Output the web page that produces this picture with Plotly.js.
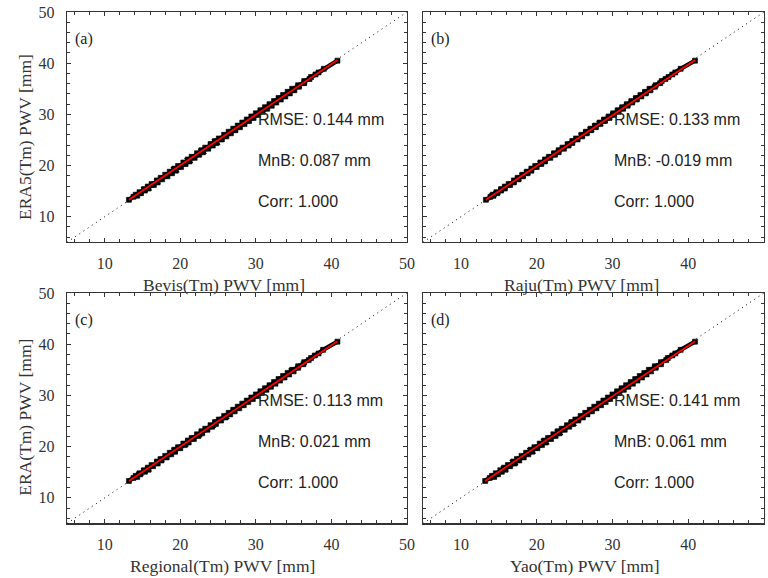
<!DOCTYPE html>
<html>
<head>
<meta charset="utf-8">
<script src="https://cdn.plot.ly/plotly-3.0.1.min.js"></script>
<style>html,body{margin:0;padding:0;background:#fff;}#chart{width:768px;height:578px;}</style>
</head>
<body>
<div id="chart"></div>
<script>
// ERA5 PWV (y, mm), shared by all panels
const era5PWV = [13.3,13.9,14.1,14.3,14.6,14.8,15.1,15.4,15.5,15.9,16.2,16.4,16.7,17.1,17.3,17.6,17.9,18.2,18.5,18.8,19.0,19.4,19.7,19.9,20.3,20.6,20.8,21.2,21.5,21.7,22.1,22.4,22.6,23.0,23.3,23.5,23.9,24.2,24.4,24.8,25.1,25.3,25.7,26.0,26.3,26.6,26.9,27.2,27.5,27.8,28.1,28.4,28.7,29.0,29.3,29.6,29.9,30.2,30.5,30.8,31.1,31.4,31.7,32.0,32.3,32.6,32.9,33.2,33.5,33.8,34.1,34.4,34.7,35.0,35.4,35.7,36.1,36.5,36.9,37.3,37.8,38.2,38.9,40.5];
// model PWV (x, mm)
const bevisPWV = [13.2,13.8,14.3,14.1,14.8,14.6,15.3,15.2,15.8,15.7,16.5,16.2,17.0,16.9,17.6,17.4,18.3,18.0,18.9,18.6,19.4,19.2,20.1,19.7,20.7,20.4,21.2,21.0,21.9,21.5,22.5,22.2,23.0,22.8,23.7,23.3,24.3,24.0,24.8,24.6,25.5,25.1,26.1,25.8,26.7,26.4,27.3,27.0,27.9,27.6,28.5,28.2,29.1,28.8,29.7,29.4,30.3,30.0,30.9,30.6,31.5,31.2,32.1,31.8,32.7,32.4,33.3,33.0,33.9,33.6,34.5,34.2,35.1,34.8,35.7,35.6,36.4,36.4,37.1,37.3,37.9,38.3,39.0,40.8];
const rajuPWV = [13.3,13.9,14.3,14.2,14.8,14.7,15.3,15.3,15.8,15.8,16.5,16.3,17.0,17.0,17.6,17.5,18.2,18.1,18.8,18.7,19.3,19.3,20.0,19.8,20.6,20.5,21.1,21.1,21.8,21.6,22.4,22.3,22.9,22.9,23.6,23.4,24.2,24.1,24.7,24.7,25.4,25.2,26.0,25.9,26.6,26.5,27.2,27.1,27.8,27.7,28.4,28.3,29.0,28.9,29.6,29.5,30.2,30.1,30.8,30.7,31.4,31.3,32.0,31.9,32.6,32.5,33.2,33.1,33.8,33.7,34.4,34.3,35.0,34.9,35.6,35.7,36.3,36.5,37.0,37.4,37.9,38.3,39.0,40.9];
const regionalPWV = [13.2,13.8,14.3,14.1,14.7,14.6,15.3,15.2,15.8,15.7,16.4,16.2,17.0,16.9,17.5,17.4,18.2,18.0,18.8,18.6,19.3,19.2,20.0,19.7,20.6,20.4,21.1,21.0,21.8,21.5,22.4,22.2,22.9,22.8,23.6,23.3,24.2,24.0,24.7,24.6,25.4,25.1,26.0,25.8,26.6,26.4,27.2,27.0,27.8,27.6,28.4,28.2,29.0,28.8,29.6,29.4,30.2,30.0,30.8,30.6,31.4,31.2,32.0,31.8,32.6,32.4,33.2,33.0,33.8,33.6,34.4,34.2,35.0,34.8,35.6,35.6,36.3,36.4,37.0,37.3,37.8,38.3,38.9,40.8];
const yaoPWV = [13.2,13.8,14.4,14.1,14.9,14.6,15.4,15.2,15.9,15.7,16.5,16.2,17.1,16.9,17.7,17.4,18.3,18.0,18.9,18.6,19.4,19.2,20.1,19.7,20.7,20.4,21.2,21.0,21.9,21.5,22.5,22.2,23.0,22.8,23.7,23.3,24.3,24.0,24.8,24.6,25.5,25.1,26.1,25.8,26.7,26.4,27.3,27.0,27.9,27.6,28.5,28.2,29.1,28.8,29.7,29.4,30.3,30.0,30.9,30.6,31.5,31.2,32.1,31.8,32.7,32.4,33.3,33.0,33.9,33.6,34.5,34.2,35.1,34.8,35.7,35.6,36.4,36.4,37.1,37.3,37.9,38.3,39.0,40.9];
// fitted line end points per panel
const fitX = [[13.2,40.8],[13.3,40.9],[13.2,40.8],[13.2,40.9]];
const fitY = [[13.3,40.6],[13.3,40.6],[13.3,40.6],[13.3,40.6]];
const oneToOne = [5,50];
// labels & statistics
const panelLabels = ['(a)','(b)','(c)','(d)'];
const xTitles = ['Bevis(Tm) PWV [mm]','Raju(Tm) PWV [mm]','Regional(Tm) PWV [mm]','Yao(Tm) PWV [mm]'];
const yTitles = ['ERA5(Tm) PWV [mm]','','ERA(Tm) PWV [mm]',''];
const rmse = ['0.144','0.133','0.113','0.141'];
const mnb = ['0.087','-0.019','0.021','0.061'];
const corr = ['1.000','1.000','1.000','1.000'];
const tickVals = [10,20,30,40,50];

const modelX = [bevisPWV, rajuPWV, regionalPWV, yaoPWV];
const xDomains = [[0.0872,0.5299],[0.5508,0.9948],[0.0872,0.5299],[0.5508,0.9948]];
const yDomains = [[0.5808,0.9792],[0.5808,0.9792],[0.0943,0.4931],[0.0943,0.4931]];
// axis-title positions (paper fractions)
const xTitlePos = [[0.2923,0.5069],[0.7578,0.5069],[0.2900,0.0208],[0.7611,0.0208]];
const yTitlePos = [[0.0326,0.7630],null,[0.0326,0.2773],null];

const serif = 'Liberation Serif, Times New Roman, serif';
const sans = 'Liberation Sans, Arial, sans-serif';
const axCol = '#333333';

const traces = [];
const layout = {
  width: 768, height: 578,
  margin: {l:0, r:0, t:0, b:0},
  paper_bgcolor: '#ffffff', plot_bgcolor: '#ffffff',
  showlegend: false,
  annotations: []
};

for (let i = 0; i < 4; i++) {
  const s = i === 0 ? '' : String(i + 1);
  const xa = 'x' + s, ya = 'y' + s;
  const isRight = (i % 2) === 1;
  traces.push({x: oneToOne, y: oneToOne, xaxis: xa, yaxis: ya, mode: 'lines',
    line: {color: '#000', width: 1, dash: '1px,4px'}, hoverinfo: 'skip'});
  traces.push({x: modelX[i], y: era5PWV, xaxis: xa, yaxis: ya, mode: 'lines+markers',
    line: {color: '#000', width: 4.5},
    marker: {symbol: 'square', size: 5, color: '#000', line: {width: 0.6, color: '#000'}}});
  traces.push({x: fitX[i], y: fitY[i], xaxis: xa, yaxis: ya, mode: 'lines',
    line: {color: '#ff0000', width: 1.8}});

  const axBase = {
    range: [5, 50], tickvals: tickVals, ticks: 'inside', ticklen: 4, tickwidth: 1,
    tickcolor: axCol, showline: true, linecolor: axCol, linewidth: 1.2, mirror: 'ticks',
    showgrid: false, zeroline: false,
    tickfont: {family: serif, size: 16, color: '#333'},
    minor: {dtick: 2, tick0: 0, ticks: 'inside', ticklen: 3, tickcolor: axCol, showgrid: false}
  };
  layout['xaxis' + s] = Object.assign({}, axBase, {
    domain: xDomains[i], anchor: ya, ticklabelstandoff: 6
  });
  layout['yaxis' + s] = Object.assign({}, axBase, {
    domain: yDomains[i], anchor: xa, ticklabelstandoff: 8, showticklabels: !isRight
  });

  layout.annotations.push({xref: 'paper', yref: 'paper', x: xTitlePos[i][0], y: xTitlePos[i][1],
    text: xTitles[i], showarrow: false, xanchor: 'center', yanchor: 'middle',
    font: {family: serif, size: 17.5, color: '#333'}});
  if (yTitlePos[i]) {
    layout.annotations.push({xref: 'paper', yref: 'paper', x: yTitlePos[i][0], y: yTitlePos[i][1],
      text: yTitles[i], showarrow: false, textangle: -90, xanchor: 'center', yanchor: 'middle',
      font: {family: serif, size: 17.5, color: '#333'}});
  }

  layout.annotations.push({xref: xa, yref: ya, x: 5.8, y: 44.7, text: panelLabels[i],
    showarrow: false, xanchor: 'left', yanchor: 'middle', font: {family: serif, size: 16, color: '#222'}});
  layout.annotations.push({xref: xa, yref: ya, x: 30, y: 29, text: 'RMSE: ' + rmse[i] + ' mm',
    showarrow: false, xanchor: 'left', yanchor: 'middle', font: {family: sans, size: 16, color: '#222'}});
  layout.annotations.push({xref: xa, yref: ya, x: 30, y: 21, text: 'MnB: ' + mnb[i] + ' mm',
    showarrow: false, xanchor: 'left', yanchor: 'middle', font: {family: sans, size: 16, color: '#222'}});
  layout.annotations.push({xref: xa, yref: ya, x: 30, y: 13, text: 'Corr: ' + corr[i],
    showarrow: false, xanchor: 'left', yanchor: 'middle', font: {family: sans, size: 16, color: '#222'}});
}

Plotly.newPlot('chart', traces, layout, {staticPlot: true, displayModeBar: false});
</script>
</body>
</html>
